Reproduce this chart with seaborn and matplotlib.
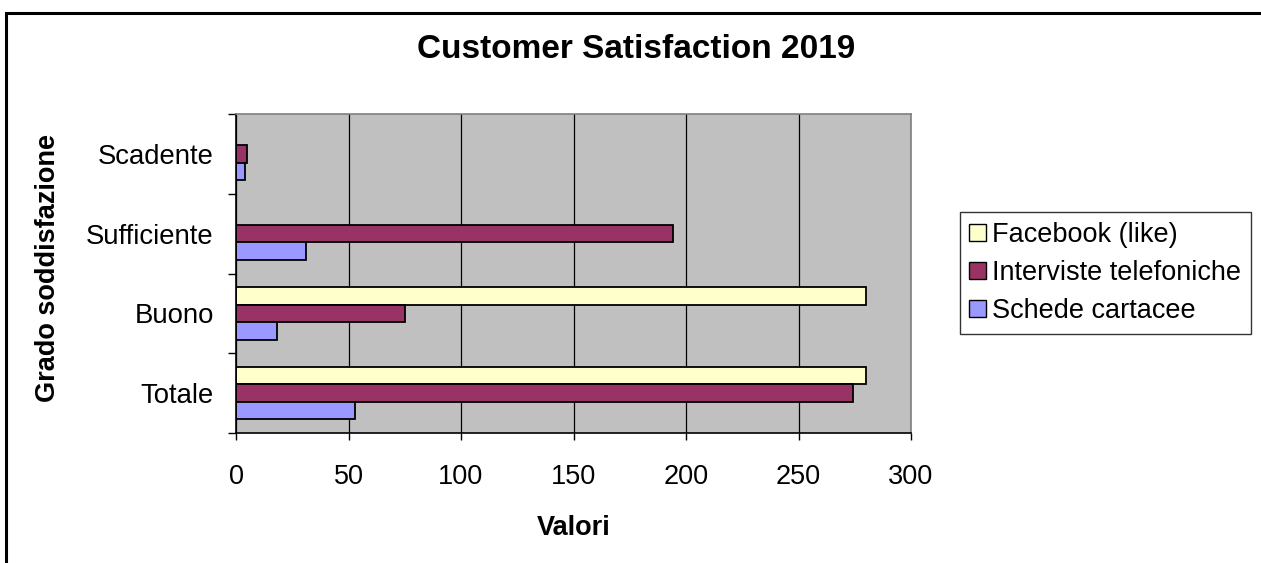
import matplotlib
matplotlib.use("Agg")
import matplotlib.pyplot as plt
from matplotlib.patches import Patch, Rectangle
import seaborn as sns
import pandas as pd

categorie = ["Scadente", "Sufficiente", "Buono", "Totale"]
serie = ["Facebook (like)", "Interviste telefoniche", "Schede cartacee"]
facebook = [None, None, 280, 280]
interviste = [5, 194, 75, 274]
schede = [4, 31, 18, 53]
colori = ["#FFFFCC", "#993366", "#9999FF"]
x_ticks = [0, 50, 100, 150, 200, 250, 300]

rows = []
for nome, valori in zip(serie, [facebook, interviste, schede]):
    for cat, v in zip(categorie, valori):
        if v is not None:
            rows.append({"Grado": cat, "Serie": nome, "Valore": v})
df = pd.DataFrame(rows)

sns.set_style("white")
plt.rcParams["font.family"] = ["Liberation Sans", "DejaVu Sans"]
plt.rcParams["text.color"] = "black"
plt.rcParams["axes.labelcolor"] = "black"
plt.rcParams["xtick.color"] = "black"
plt.rcParams["ytick.color"] = "black"

W, H = 1261, 563
fig = plt.figure(figsize=(W / 100, H / 100), dpi=100)
ax = fig.add_axes([236 / W, 1 - 433 / H, 675 / W, 319 / H])

sns.barplot(data=df, y="Grado", x="Valore", hue="Serie", order=categorie,
            hue_order=serie, palette=colori, orient="h", width=0.66,
            edgecolor="black", linewidth=1.3, saturation=1, ax=ax,
            legend=False)

ax.set_facecolor("#C0C0C0")
ax.set_xlim(0, 300)
ax.set_ylim(3.5, -0.5)
ax.set_xticks(x_ticks)
ax.set_xticklabels([str(t) for t in x_ticks], fontsize=19.5, color="black")
ax.set_yticklabels(categorie, fontsize=19.8, color="black")
ax.set_xlabel("")
ax.set_ylabel("")
ax.xaxis.grid(True, color="black", linewidth=0.9)
ax.set_axisbelow(True)

ax.tick_params(axis="x", direction="out", length=5, width=1, color="black",
               pad=17, bottom=True)
ax.tick_params(axis="y", which="major", length=0, pad=16)
ax.set_yticks([-0.5, 0.5, 1.5, 2.5, 3.5], minor=True)
ax.tick_params(axis="y", which="minor", direction="out", length=6, width=1,
               color="black", left=True)

for s in ["left", "bottom"]:
    ax.spines[s].set_color("black")
    ax.spines[s].set_linewidth(1.2)
for s in ["top", "right"]:
    ax.spines[s].set_color("#808080")
    ax.spines[s].set_linewidth(1.2)

fig.text(636.5 / W, 1 - 49 / H, "Customer Satisfaction 2019", ha="center",
         va="center", fontsize=24, fontweight="bold", color="black")
fig.text(48 / W, 1 - 267.5 / H, "Grado soddisfazione", ha="center",
         va="center", rotation=90, fontsize=19.5, fontweight="bold",
         color="black")
fig.text(573.5 / W, 1 - 528 / H, "Valori", ha="center", va="center",
         fontsize=19.5, fontweight="bold", color="black")

handles = [Patch(facecolor=c, edgecolor="black", linewidth=1) for c in colori]
leg = fig.legend(handles, serie, loc="center left",
                 bbox_to_anchor=(960 / W, 1 - 273 / H), borderaxespad=0,
                 fontsize=19.5, frameon=True, fancybox=False, shadow=False,
                 handlelength=0.6, handleheight=0.6, handletextpad=0.25,
                 borderpad=0.35, labelspacing=0.45, labelcolor="black")
leg.get_frame().set_edgecolor("black")
leg.get_frame().set_linewidth(1)

# cornice esterna del grafico
fig.patches.append(Rectangle((6 / W, -0.1), 1.5, 1 - 13 / H + 0.1,
                             transform=fig.transFigure, fill=False,
                             edgecolor="black", linewidth=2.2))

fig.savefig("out.png", dpi=100)
